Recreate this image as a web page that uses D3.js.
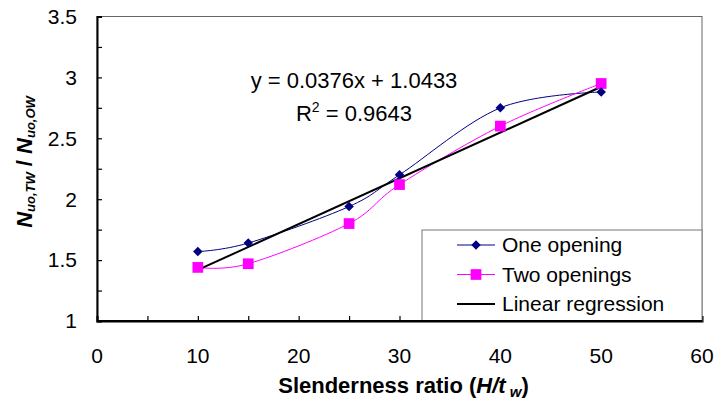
<!DOCTYPE html>
<html>
<head>
<meta charset="utf-8">
<script src="https://cdn.jsdelivr.net/npm/d3@7"></script>
<style>
  body { margin: 0; background: #fff; }
  text { font-family: "Liberation Sans", Arial, sans-serif; }
</style>
</head>
<body>
<svg id="chart"></svg>
<script>
const slenderness = [10, 15, 25, 30, 40, 50];
const oneOpening = [1.57, 1.64, 1.94, 2.20, 2.75, 2.88];
const twoOpenings = [1.44, 1.47, 1.80, 2.12, 2.60, 2.95];
const slope = 0.0376, intercept = 1.0433;
const xTicks = [0, 10, 20, 30, 40, 50, 60];
const yTicks = [1, 1.5, 2, 2.5, 3, 3.5];

const width = 720, height = 407;
const margin = { top: 16.5, right: 18, bottom: 86, left: 97 };

const svg = d3.select("#chart")
    .attr("width", width)
    .attr("height", height)
    .attr("viewBox", [0, 0, width, height]);

const x = d3.scaleLinear([0, 60], [margin.left, width - margin.right]);
const y = d3.scaleLinear([1, 3.5], [height - margin.bottom, margin.top]);

// plot frame (top/right)
svg.append("rect")
    .attr("x", x(0)).attr("y", y(3.5))
    .attr("width", x(60) - x(0)).attr("height", y(1) - y(3.5))
    .attr("fill", "none").attr("stroke", "#666").attr("stroke-width", 1);

// y axis
svg.append("g")
    .attr("transform", `translate(${x(0)},0)`)
    .call(d3.axisRight(y).tickValues(d3.range(1, 3.51, 0.25)).tickSize(5).tickFormat(""))
    .call(g => g.select(".domain").attr("stroke-width", 2))
    .call(g => g.selectAll(".tick line").attr("stroke-width", 1.2));

svg.append("g")
    .selectAll("text")
    .data(yTicks)
    .join("text")
      .attr("x", x(0) - 20)
      .attr("y", d => y(d))
      .attr("dy", "0.35em")
      .attr("text-anchor", "end")
      .style("font-size", "21px")
      .text(d => d);

// x axis
svg.append("g")
    .attr("transform", `translate(0,${y(1)})`)
    .call(d3.axisTop(x).tickValues(d3.range(0, 61, 5)).tickSize(5).tickFormat(""))
    .call(g => g.select(".domain").attr("stroke-width", 2))
    .call(g => g.selectAll(".tick line").attr("stroke-width", 1.2));

svg.append("g")
    .selectAll("text")
    .data(xTicks)
    .join("text")
      .attr("x", d => x(d))
      .attr("y", y(1) + 42)
      .attr("text-anchor", "middle")
      .style("font-size", "21px")
      .text(d => d);

// axis titles
const xt = svg.append("text")
    .attr("x", (x(0) + x(60)) / 2 + 4)
    .attr("y", y(1) + 72)
    .attr("text-anchor", "middle")
    .style("font-size", "22px")
    .style("font-weight", "bold");
xt.append("tspan").text("Slenderness ratio (");
xt.append("tspan").style("font-style", "italic").text("H/t");
xt.append("tspan").style("font-style", "italic").style("font-size", "15px").attr("dy", 4).text(" w");
xt.append("tspan").attr("dy", -4).text(")");

const yt = svg.append("text")
    .attr("transform", `translate(32,162) rotate(-90)`)
    .attr("text-anchor", "middle")
    .style("font-size", "22px")
    .style("font-weight", "bold")
    .style("font-style", "italic");
yt.append("tspan").text("N");
yt.append("tspan").style("font-size", "13px").attr("dy", 3).text("uo,TW");
yt.append("tspan").attr("dy", -3).style("font-style", "normal").text(" / ");
yt.append("tspan").text("N");
yt.append("tspan").style("font-size", "13px").attr("dy", 3).text("uo,OW");

// series lines
const line = d3.line()
    .x(d => x(d[0]))
    .y(d => y(d[1]))
    .curve(d3.curveCardinal.tension(0));

const one = slenderness.map((s, i) => [s, oneOpening[i]]);
const two = slenderness.map((s, i) => [s, twoOpenings[i]]);

svg.append("path").datum(one)
    .attr("fill", "none").attr("stroke", "#000080").attr("stroke-width", 1)
    .attr("d", line);
svg.append("path").datum(two)
    .attr("fill", "none").attr("stroke", "#ff00ff").attr("stroke-width", 1)
    .attr("d", line);

// regression
const xr = d3.extent(slenderness);
svg.append("line")
    .attr("x1", x(xr[0])).attr("y1", y(slope * xr[0] + intercept))
    .attr("x2", x(xr[1])).attr("y2", y(slope * xr[1] + intercept))
    .attr("stroke", "#000").attr("stroke-width", 2);

// markers
const diamond = d3.symbol(d3.symbolDiamond2, 58);
const square = d3.symbol(d3.symbolSquare, 115);

svg.append("g").selectAll("path")
    .data(two).join("path")
      .attr("transform", d => `translate(${x(d[0])},${y(d[1])})`)
      .attr("d", square)
      .attr("fill", "#ff00ff");

svg.append("g").selectAll("path")
    .data(one).join("path")
      .attr("transform", d => `translate(${x(d[0])},${y(d[1])})`)
      .attr("d", diamond)
      .attr("fill", "#000080");

// equation
svg.append("text")
    .attr("x", 354).attr("y", 88)
    .attr("text-anchor", "middle")
    .style("font-size", "22px")
    .text(`y = ${slope}x + ${intercept}`);
const r2 = svg.append("text")
    .attr("x", 354).attr("y", 121)
    .attr("text-anchor", "middle")
    .style("font-size", "22px");
r2.append("tspan").text("R");
r2.append("tspan").style("font-size", "14px").attr("dy", -9).text("2");
r2.append("tspan").attr("dy", 9).text(" = 0.9643");

// legend
const lg = svg.append("g");
lg.append("rect")
    .attr("x", 422).attr("y", 230)
    .attr("width", x(60) - 422).attr("height", y(1) - 230)
    .attr("fill", "#fff").attr("stroke", "#777").attr("stroke-width", 1);

const items = [
  { name: "One opening", color: "#000080", sym: diamond },
  { name: "Two openings", color: "#ff00ff", sym: square },
  { name: "Linear regression", color: "#000", sym: null }
];
items.forEach((it, i) => {
  const cy = 245 + i * 29.5;
  lg.append("line")
      .attr("x1", 457).attr("x2", 495).attr("y1", cy).attr("y2", cy)
      .attr("stroke", it.color).attr("stroke-width", it.sym ? 1 : 2);
  if (it.sym) {
    lg.append("path")
        .attr("transform", `translate(476,${cy})`)
        .attr("d", it.sym)
        .attr("fill", it.color);
  }
  lg.append("text")
      .attr("x", 502).attr("y", cy)
      .attr("dy", "0.35em")
      .style("font-size", "21px")
      .text(it.name);
});

// redraw bottom axis line on top of the legend
svg.append("line")
    .attr("x1", x(0)).attr("x2", x(60)).attr("y1", y(1)).attr("y2", y(1))
    .attr("stroke", "#000").attr("stroke-width", 2);
</script>
</body>
</html>
